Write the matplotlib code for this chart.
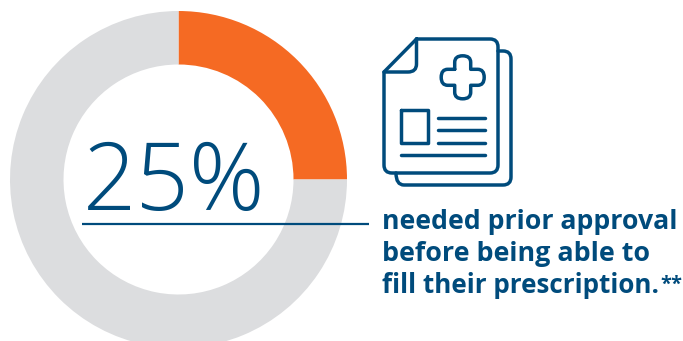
import matplotlib
matplotlib.use("Agg")
import matplotlib.pyplot as plt
from matplotlib.patches import PathPatch
from matplotlib.path import Path

W, H = 683, 341
NAVY = "#004b7c"
ORANGE = "#f56a23"
GREY = "#dcdddf"

share_values = [25, 75]
share_colors = [ORANGE, GREY]
headline = "25%"
caption_lines = ["needed prior approval", "before being able to", "fill their prescription."]
caption_sizes = [19.2, 19.4, 18.7]
footnote_mark = "**"

fig = plt.figure(figsize=(W / 100, H / 100), dpi=100)
ax = fig.add_axes([0, 0, 1, 1])

# Ring, clockwise from twelve o'clock
ax.pie(share_values, colors=share_colors, startangle=90, counterclock=False,
       center=(178.5, H - 179.5), radius=168.5, frame=True,
       wedgeprops=dict(width=53.5, linewidth=0))
ax.set_xlim(0, W)
ax.set_ylim(0, H)
ax.set_aspect("auto")
ax.axis("off")

ax.text(82.5, H - 210, headline, fontsize=67.5, family="Open Sans", fontweight="light",
        color=NAVY, ha="left", va="baseline")
ax.plot([82, 369], [H - 224, H - 224], color=NAVY, lw=1.6, solid_capstyle="butt")

for text, y, size in zip(caption_lines, [229, 261, 293], caption_sizes):
    ax.text(382, H - y, text, fontsize=size, family="Open Sans", fontweight="bold",
            color=NAVY, ha="left", va="baseline")
ax.text(660, H - 290, footnote_mark, fontsize=14.5, family="Open Sans", fontweight="bold",
        color=NAVY, ha="left", va="baseline")


# Document icon, outlined in page coordinates measured from the top-left
def P(x, y):
    return (x, H - y)


def stroke(verts, codes, lw=2.5):
    path = Path([P(*v) for v in verts], codes)
    ax.add_patch(PathPatch(path, fc="none", ec=NAVY, lw=lw, joinstyle="round", capstyle="round"))


M, L, C = Path.MOVETO, Path.LINETO, Path.CURVE3

# front sheet with folded corner
stroke([(416.5, 39), (490, 39), (498, 39), (498, 47), (498, 165), (498, 173), (490, 173),
        (392, 173), (384, 173), (384, 165), (384, 72), (416.5, 39)],
       [M, L, C, C, L, C, C, L, C, C, L, L])
stroke([(416.5, 39), (416.5, 64), (416.5, 72), (408, 72), (384, 72)], [M, L, C, C, L])
# sheet behind
stroke([(498, 51), (503, 51), (511, 51), (511, 59), (511, 177), (511, 185), (503, 185),
        (404, 185), (396, 185), (396, 173)],
       [M, L, C, C, L, C, C, L, C, C])

# medical cross with rounded arms
cx, cy, a, b = 462.7, 77.3, 8.0, 21.5
r = 6.5
stroke([(cx - a, cy - a), (cx - a, cy - b + r), (cx - a, cy - b), (cx, cy - b), (cx + a, cy - b),
        (cx + a, cy - b + r), (cx + a, cy - a), (cx + b - r, cy - a), (cx + b, cy - a), (cx + b, cy),
        (cx + b, cy + a), (cx + b - r, cy + a), (cx + a, cy + a), (cx + a, cy + b - r),
        (cx + a, cy + b), (cx, cy + b), (cx - a, cy + b), (cx - a, cy + b - r), (cx - a, cy + a),
        (cx - b + r, cy + a), (cx - b, cy + a), (cx - b, cy), (cx - b, cy - a), (cx - b + r, cy - a),
        (cx - a, cy - a)],
       [M, L, C, C, C, C, L, L, C, C, C, C, L, L, C, C, C, C, L, L, C, C, C, C, L])

# photo box and text rules
stroke([(401, 110), (428, 110), (428, 143), (401, 143), (401, 110)], [M, L, L, L, L])
for x0, x1, y in [(437.5, 484.5, 117.5), (437.5, 484.5, 130), (437.5, 484.5, 142.5), (400.5, 484.5, 155)]:
    stroke([(x0, y), (x1, y)], [M, L])

fig.savefig("out.png", dpi=100)
